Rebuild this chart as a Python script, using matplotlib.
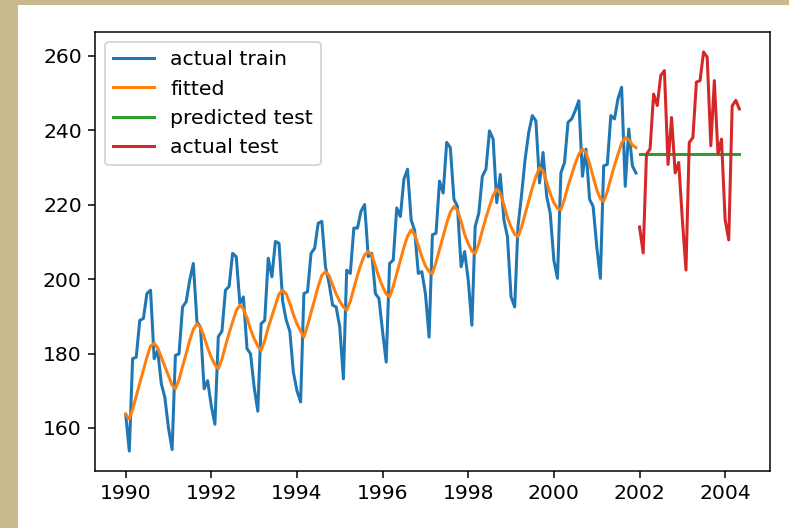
import pandas as pd
import matplotlib
matplotlib.use("Agg")
import matplotlib.pyplot as plt
import matplotlib.dates as mdates
from matplotlib.patches import Rectangle

# Monthly series: training period 1990-01 .. 2001-12, test period 2002-01 .. 2004-05
train_start = "1990-01-01"
test_start = "2002-01-01"

actual_train = [
    163.7, 153.8, 178.6, 179.0, 188.9, 189.4, 196.1, 197.0, 178.6, 180.8, 171.9, 168.2,  # 1990
    160.0, 154.2, 179.5, 179.9, 192.5, 193.9, 199.7, 204.2, 188.5, 187.1, 170.5, 172.7,  # 1991
    166.0, 161.0, 184.5, 186.0, 197.0, 198.0, 206.9, 206.0, 193.4, 195.2, 181.3, 179.9,  # 1992
    170.9, 164.5, 188.0, 188.9, 205.6, 200.6, 210.1, 209.6, 194.0, 189.0, 186.0, 175.0,  # 1993
    170.0, 167.0, 196.1, 196.6, 206.9, 208.3, 215.0, 215.5, 203.3, 199.0, 193.0, 192.5,  # 1994
    187.1, 173.2, 202.4, 201.5, 213.7, 213.7, 218.2, 220.0, 206.0, 206.9, 196.1, 194.8,  # 1995
    186.0, 177.7, 204.2, 205.1, 219.1, 216.8, 226.8, 229.5, 215.9, 213.0, 201.5, 202.0,  # 1996
    196.0, 184.4, 211.9, 212.3, 226.3, 223.1, 236.7, 235.3, 221.4, 219.5, 203.3, 207.4,  # 1997
    199.7, 187.6, 214.1, 217.7, 227.6, 229.5, 239.8, 237.6, 220.5, 228.1, 215.9, 211.4,  # 1998
    195.2, 192.5, 214.1, 222.7, 232.2, 239.4, 243.9, 242.5, 225.8, 234.0, 222.2, 217.7,  # 1999
    205.1, 200.2, 228.5, 231.3, 242.1, 243.0, 245.2, 247.9, 227.6, 234.9, 221.4, 219.5,  # 2000
    208.7, 200.2, 230.4, 230.8, 243.9, 243.0, 248.4, 251.5, 224.9, 240.3, 230.4, 228.5,  # 2001
]

fitted = [
    163.7, 162.4, 165.0, 168.5, 172.0, 175.5, 179.0, 182.0, 182.8, 181.5, 179.0, 176.5,  # 1990
    174.0, 171.5, 170.5, 173.0, 176.5, 180.0, 183.5, 186.5, 188.0, 187.0, 184.5, 181.5,  # 1991
    179.0, 177.0, 175.9, 178.5, 182.0, 185.5, 188.5, 191.5, 193.0, 192.0, 189.5, 186.5,  # 1992
    184.0, 182.0, 180.8, 183.5, 187.0, 190.0, 193.0, 196.0, 197.0, 196.0, 193.5, 190.5,  # 1993
    188.0, 186.0, 184.4, 187.5, 191.0, 194.5, 198.0, 201.0, 202.0, 201.0, 198.5, 196.0,  # 1994
    194.0, 192.5, 191.6, 194.0, 197.5, 201.0, 204.0, 206.5, 207.4, 206.5, 203.5, 200.5,  # 1995
    198.0, 196.0, 195.2, 198.0, 201.5, 205.0, 208.5, 211.5, 213.2, 212.0, 209.0, 206.0,  # 1996
    203.5, 202.0, 201.5, 204.5, 208.0, 211.5, 215.0, 218.0, 219.5, 218.5, 215.5, 212.0,  # 1997
    209.5, 207.5, 206.9, 209.5, 213.0, 216.5, 219.5, 222.5, 224.1, 223.0, 220.0, 216.5,  # 1998
    214.0, 212.0, 211.4, 214.0, 217.5, 221.0, 224.5, 227.5, 229.9, 229.0, 226.0, 223.0,  # 1999
    220.5, 219.0, 218.6, 221.5, 225.0, 228.0, 231.0, 233.5, 234.9, 234.0, 231.0, 227.5,  # 2000
    224.0, 221.5, 220.9, 223.5, 227.0, 230.5, 233.5, 236.5, 238.0, 237.5, 236.0, 235.3,  # 2001
]

actual_test = [
    214.0, 207.0, 233.5, 235.0, 249.7, 246.6, 254.7, 256.0, 230.8, 243.4, 228.5, 231.3,  # 2002
    216.0, 202.4, 236.7, 238.0, 252.9, 253.3, 261.0, 259.6, 235.8, 253.3, 233.5, 237.6,  # 2003
    215.9, 210.5, 246.5, 248.0, 245.7,                                                    # 2004
]

predicted_test = [
    233.6, 233.6, 233.6, 233.6, 233.6, 233.6, 233.6, 233.6, 233.6, 233.6, 233.6, 233.6,
    233.6, 233.6, 233.6, 233.6, 233.6, 233.6, 233.6, 233.6, 233.6, 233.6, 233.6, 233.6,
    233.6, 233.6, 233.6, 233.6, 233.6,
]

y_ticks = [160, 180, 200, 220, 240, 260]

train_dates = pd.date_range(train_start, periods=len(actual_train), freq="MS")
test_dates = pd.date_range(test_start, periods=len(actual_test), freq="MS")

plt.rcParams["font.size"] = 10.8

W, H, DPI = 789, 528, 136
fig = plt.figure(figsize=(W / DPI, H / DPI), dpi=DPI, facecolor="#c9b98f")
# white page area inside the tan frame, kept behind the axes
fig.patches.append(Rectangle((18 / W, 0), 1 - 18 / W, (H - 5) / H,
                             transform=fig.transFigure, facecolor="white",
                             edgecolor="none", zorder=-10))

ax = fig.add_axes([95 / W, 57 / H, 675 / W, 439 / H])
ax.set_zorder(1)
ax.plot(train_dates, actual_train, color="C0", lw=1.6, label="actual train")
ax.plot(train_dates, fitted, color="C1", lw=1.6, label="fitted")
ax.plot(test_dates, predicted_test, color="C2", lw=1.6, label="predicted test")
ax.plot(test_dates, actual_test, color="C3", lw=1.6, label="actual test")

ax.set_yticks(y_ticks)
ax.xaxis.set_major_locator(mdates.YearLocator(2))
ax.xaxis.set_major_formatter(mdates.DateFormatter("%Y"))
ax.legend(loc="upper left")

fig.savefig("out.png", dpi=DPI, facecolor=fig.get_facecolor())
